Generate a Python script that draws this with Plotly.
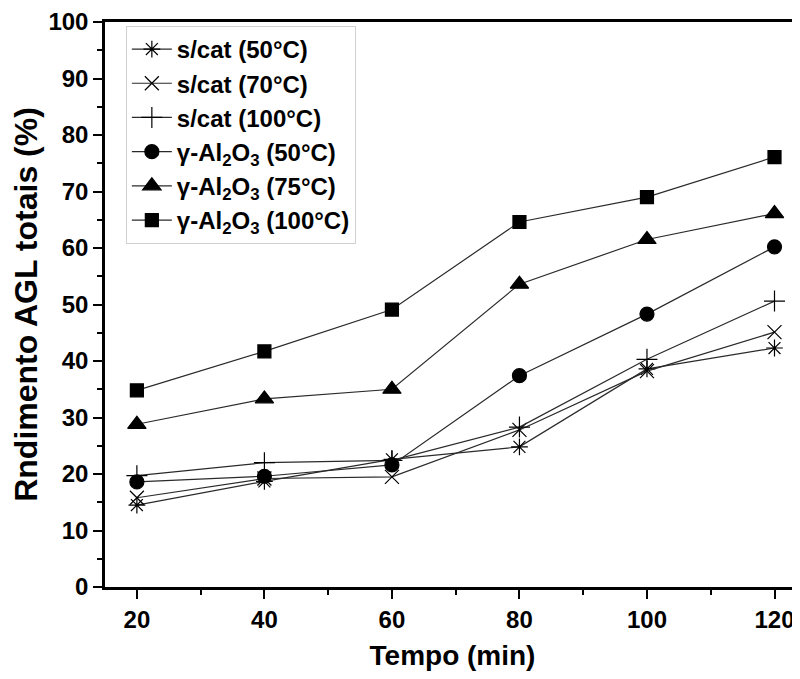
import plotly.graph_objects as go

tempo = [20, 40, 60, 80, 100, 120]
scat_50 = [14.5, 18.7, 22.6, 24.8, 38.6, 42.3]
scat_70 = [15.8, 19.2, 19.5, 27.8, 38.2, 45.1]
scat_100 = [19.7, 22.0, 22.4, 28.3, 40.3, 50.6]
al_50 = [18.6, 19.6, 21.6, 37.4, 48.3, 60.2]
al_75 = [28.8, 33.3, 35.0, 53.6, 61.5, 66.1]
al_100 = [34.8, 41.7, 49.1, 64.6, 69.0, 76.1]

series = [
    ("s/cat (50°C)", scat_50, "asterisk-open", 14),
    ("s/cat (70°C)", scat_70, "x-thin-open", 14),
    ("s/cat (100°C)", scat_100, "cross-thin-open", 15),
    ("γ-Al<sub>2</sub>O<sub>3</sub> (50°C)", al_50, "circle", 14),
    ("γ-Al<sub>2</sub>O<sub>3</sub> (75°C)", al_75, "triangle-up", 16),
    ("γ-Al<sub>2</sub>O<sub>3</sub> (100°C)", al_100, "square", 13),
]

fig = go.Figure()
for name, vals, sym, sz in series:
    fig.add_trace(go.Scatter(
        x=tempo, y=vals, name=name, mode="lines+markers",
        line=dict(color="#2a2a2a", width=1.2),
        marker=dict(symbol=sym, size=sz, color="black",
                    line=dict(color="black", width=1.2)),
    ))

FAM = "Arial, Liberation Sans"
axis_font = dict(family=FAM, size=24, color="black", weight="bold")
fig.update_layout(
    width=792, height=663,
    margin=dict(l=97, r=0, t=14, b=84),
    paper_bgcolor="white", plot_bgcolor="white",
    showlegend=True,
    legend=dict(
        x=0.03, y=0.993, xanchor="left", yanchor="top",
        bgcolor="white", bordercolor="#d0d0d0", borderwidth=1,
        font=dict(family=FAM, size=24, color="black", weight="bold"),
        tracegroupgap=0, itemwidth=40,
    ),
    font=dict(family=FAM, color="black"),
)
fig.update_xaxes(
    range=[15, 124.0], tickvals=tempo, ticktext=[str(t) for t in tempo],
    automargin=False, ticklabeloverflow="allow",
    showline=True, linecolor="black", linewidth=2.5, mirror=True,
    ticks="outside", ticklen=9, tickwidth=2, tickcolor="black",
    minor=dict(ticks="outside", ticklen=5, tickwidth=2, tickcolor="black", dtick=10, tick0=30, showgrid=False),
    showgrid=False, zeroline=False,
    tickfont=axis_font,
    title=dict(text="Tempo (min)", font=dict(family=FAM, size=28, color="black", weight="bold"), standoff=14),
)
fig.update_yaxes(
    range=[0, 100], dtick=10,
    automargin=False, ticklabeloverflow="allow",
    showline=True, linecolor="black", linewidth=2.5,
    ticks="outside", ticklen=9, tickwidth=2, tickcolor="black",
    minor=dict(ticks="outside", ticklen=5, tickwidth=2, tickcolor="black", dtick=5, showgrid=False),
    showgrid=False, zeroline=False,
    tickfont=axis_font,
    title=dict(text="Rndimento AGL totais (%)", font=dict(family=FAM, size=32, color="black", weight="bold"), standoff=10),
)

fig.write_html("out.html")
